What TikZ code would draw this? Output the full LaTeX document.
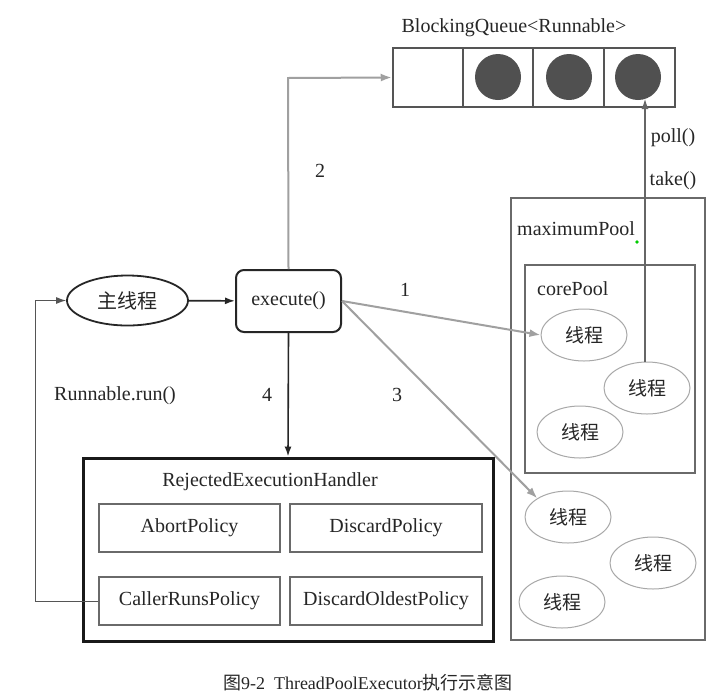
\documentclass[tikz,border=0pt]{standalone}
\usepackage{fontspec}
\setmainfont{Liberation Serif}
\newfontfamily\cjk{Noto Sans CJK SC}
\usetikzlibrary{arrows.meta,shapes.geometric}
\definecolor{txt}{HTML}{262626}
\definecolor{boxg}{HTML}{6A6A6A}
\definecolor{qbox}{HTML}{555555}
\definecolor{arrg}{HTML}{A0A0A0}
\definecolor{thr}{HTML}{A8A8A8}
\definecolor{dotfill}{HTML}{505050}
\definecolor{retl}{HTML}{555555}
\tikzset{
  lbl/.style={font=\fontsize{20}{22}\selectfont, text=txt, inner sep=0pt},
  thread/.style={ellipse, draw=thr, line width=1pt, minimum width=86pt, minimum height=52pt, inner sep=0pt, font=\cjk\fontsize{19}{21}\selectfont, text=txt},
  policy/.style={draw=boxg, line width=2.5pt, minimum height=48pt, inner sep=0pt, font=\fontsize{20}{22}\selectfont, text=txt},
  pool/.style={draw=boxg, line width=2.5pt, inner sep=0pt},
  garrow/.style={draw=arrg, line width=2pt, -{Latex[length=11pt,width=8pt]}},
  barrow/.style={draw=black!85, line width=1.6pt, -{Latex[length=10pt,width=7pt]}},
  dotc/.style={circle, fill=dotfill, minimum size=46pt, inner sep=0pt},
}
\begin{document}
\begin{tikzpicture}[x=1pt,y=-1pt]
\useasboundingbox[fill=white] (0,0) rectangle (727,694);

% Blocking queue
\node[lbl] (qlabel) at (514,28) {BlockingQueue<Runnable>};
\node[draw=qbox, line width=2.5pt, minimum width=282pt, minimum height=59pt, inner sep=0pt] (queue) at (534,77.5) {};
\coordinate (d1t) at (463,48); \coordinate (d1b) at (463,107);
\coordinate (d2t) at (533,48); \coordinate (d2b) at (533,107);
\coordinate (d3t) at (604,48); \coordinate (d3b) at (604,107);
\draw[draw=qbox, line width=2.5pt] (d1t) -- (d1b) (d2t) -- (d2b) (d3t) -- (d3b);
\node[dotc] (c1) at (498,77) {};
\node[dotc] (c2) at (569,77) {};
\node[dotc] (c3) at (638,77) {};

% main thread and execute
\node[ellipse, draw=black!85, line width=1.8pt, minimum width=121pt, minimum height=50pt, inner sep=0pt, font=\cjk\fontsize{20}{22}\selectfont, text=txt] (main) at (127.5,300.5) {主线程};
\node[draw=black!85, line width=2pt, rounded corners=8pt, minimum width=105pt, minimum height=62pt, inner sep=0pt, lbl] (exec) at (288.5,301) {execute()};

% handler
\node[draw=black!90, line width=3pt, minimum width=410pt, minimum height=183pt, inner sep=0pt] (handler) at (288,549.5) {};
\node[lbl] (hlabel) at (270,482) {RejectedExecutionHandler};
\node[policy, minimum width=181pt] (abort) at (189.5,528) {AbortPolicy};
\node[policy, minimum width=192pt] (discard) at (386,528) {DiscardPolicy};
\node[policy, minimum width=181pt] (caller) at (189.5,601) {CallerRunsPolicy};
\node[policy, minimum width=192pt] (oldest) at (386,601) {DiscardOldestPolicy};

% pools
\node[pool, minimum width=194pt, minimum height=442pt] (maxpool) at (608,419) {};
\node[lbl, anchor=west] (maxlabel) at (517,229) {maximumPool};
\fill[green!80!black] (637,242) circle (1.8pt);
\node[pool, minimum width=170pt, minimum height=208pt] (corepool) at (610,369) {};
\node[lbl, anchor=west] (corelabel) at (537,289) {corePool};

\node[thread] (t1) at (584,335) {线程};
\node[thread] (t2) at (647,388) {线程};
\node[thread] (t3) at (580,432) {线程};
\node[thread] (t4) at (568,517) {线程};
\node[thread] (t5) at (653,563) {线程};
\node[thread] (t6) at (562,602) {线程};

% connectors
\draw[barrow] (main) -- (exec);
\coordinate (e2corner) at (288,78);
\draw[garrow] (exec.north) -- (e2corner) -- (queue.west);
\node[lbl] (n2) at (320,171) {2};
\draw[garrow] (exec.east) -- (t1.west);
\node[lbl] (n1) at (405,290) {1};
\draw[garrow] (exec.east) -- (t4.north west);
\node[lbl] (n3) at (397,395) {3};
\draw[barrow] (exec.south) -- (handler.north);
\node[lbl] (n4) at (267,395) {4};
\node[lbl] (runlbl) at (115,396) {Runnable.run()};

\coordinate (rb) at (35,601);
\coordinate (rt) at (35,300.5);
\draw[draw=retl, line width=1pt, -{Latex[length=10pt,width=7pt]}] (caller.west) -- (rb) -- (rt) -- (main.west);

\coordinate (pollt) at (645,99);
\draw[draw=black!60, line width=1.1pt, -{Latex[length=10pt,width=7pt]}] (t2.north -| pollt) -- (pollt);
\node[lbl] (poll) at (673,138) {poll()};
\node[lbl] (take) at (673,181) {take()};

% caption
\node[font=\fontsize{18}{20}\selectfont, text=txt, inner sep=0pt] (cap) at (368,683) {{\cjk 图}9-2\ \ ThreadPoolExecutor{\cjk 执行示意图}};
\end{tikzpicture}
\end{document}
